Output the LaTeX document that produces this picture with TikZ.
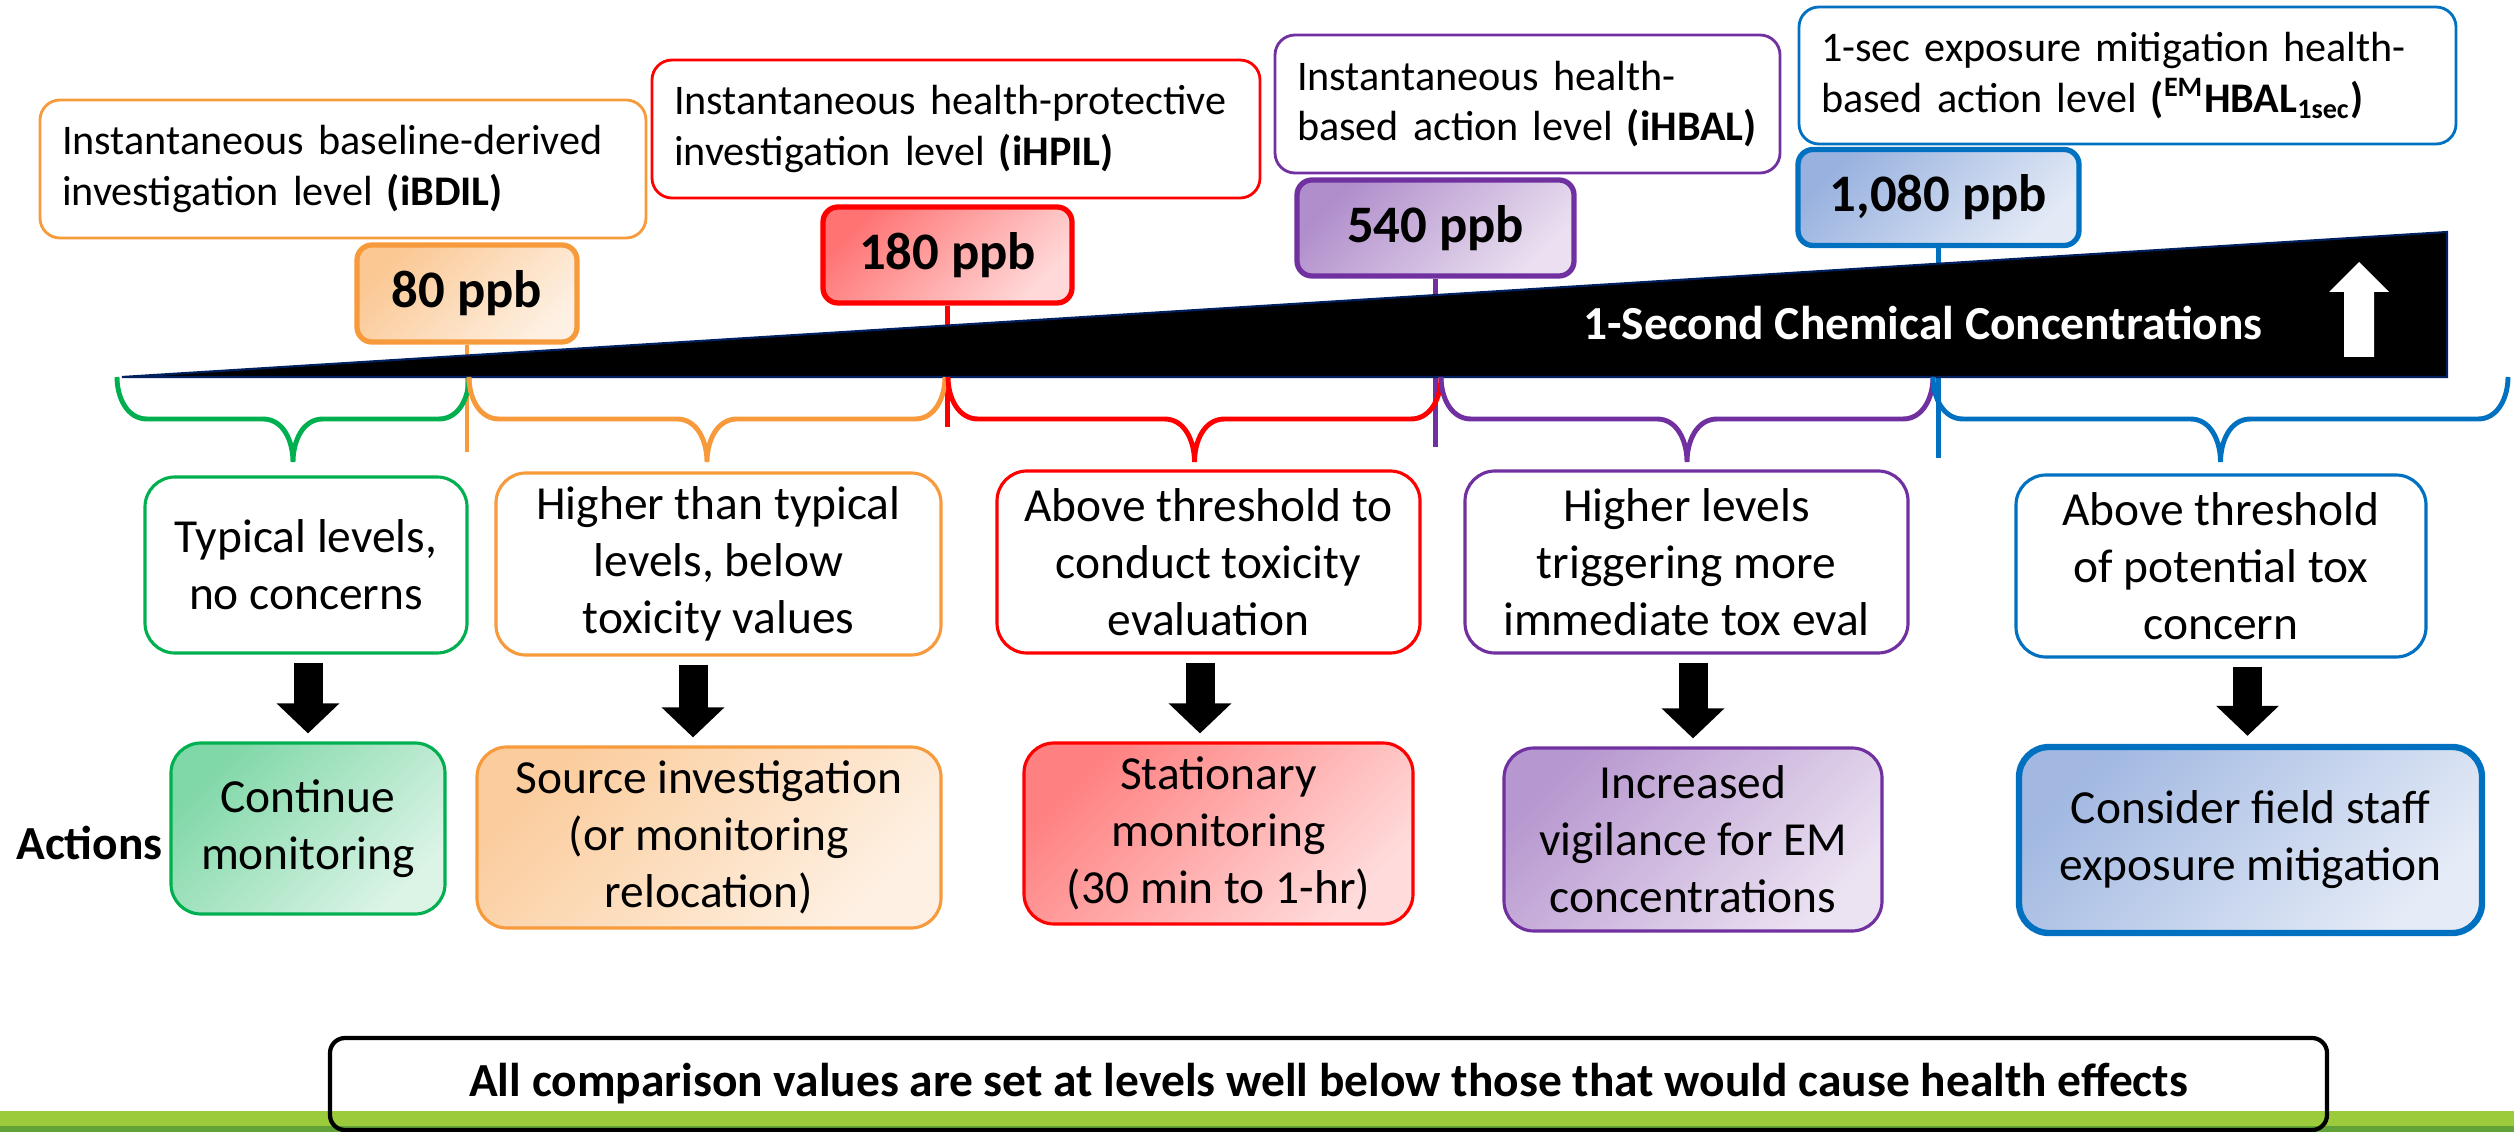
\documentclass[tikz,border=0pt]{standalone}
\usepackage{fontspec}
\setmainfont{Carlito}
\usetikzlibrary{arrows.meta}

\definecolor{lvgreen}{HTML}{00B050}
\definecolor{lvorange}{HTML}{F79A3B}
\definecolor{lvred}{HTML}{FF0000}
\definecolor{lvpurple}{HTML}{7030A0}
\definecolor{lvblue}{HTML}{0070C0}
\definecolor{lvfillblue}{HTML}{4472C4}
\definecolor{lvnavy}{HTML}{002060}
\definecolor{bandgreen}{HTML}{9BCB3B}
\definecolor{banddark}{HTML}{62A339}

\newcommand\lblfont{\fontsize{12}{14.4}\selectfont}
\newcommand\txtfont{\fontsize{13.5}{16.2}\selectfont}
\newcommand\ppbfont{\fontsize{15}{18}\selectfont\bfseries}

\begin{document}
\begin{tikzpicture}
	[toplabel/.style 2 args={rectangle,rounded corners=0.2cm,draw=#1,fill=white,line width=0.8pt,
text width=#2,align=left,inner xsep=0.22cm,minimum height=1.38cm,font=\lblfont},
	ppbbox/.style 2 args={rectangle,rounded corners=0.15cm,draw=#1,line width=1.5pt,
left color=#2!55,right color=#2!15,shading angle=45,inner sep=0pt,minimum height=0.96cm,font=\ppbfont},
	descbox/.style={rectangle,rounded corners=0.3cm,draw=#1,fill=white,line width=0.9pt,
align=center,inner sep=0pt,font=\txtfont},
	actbox/.style 2 args={rectangle,rounded corners=0.3cm,draw=#1,line width=0.9pt,
left color=#2!50,right color=#2!14,shading angle=45,align=center,inner sep=0pt,font=\txtfont},
	levelbrace/.style={draw=#1,line width=1.4pt},
	tickline/.style={draw=#1,line width=1.4pt},
	blockarrow/.style={draw=black,line width=0.29cm,-{Triangle[width=0.61cm,length=0.30cm]},
shorten <=0.08cm,shorten >=0.08cm}]
	\useasboundingbox (0,0) rectangle (25.14,-11.32);

	% comparison values
	\node at (3.43,-1.69) (lab1) [toplabel={lvorange}{5.62cm}]
		{Instantaneous baseline-derived\\investigation level \textbf{(iBDIL)}};
	\node at (9.56,-1.29) (lab2) [toplabel={lvred}{5.64cm}]
		{Instantaneous health-protective\\investigation level \textbf{(iHPIL)}};
	\node at (15.275,-1.04) (lab3) [toplabel={lvpurple}{4.61cm}]
		{Instantaneous health-\\based action level \textbf{(iHBAL)}};
	\node at (21.275,-0.755) (lab4) [toplabel={lvblue}{6.13cm},minimum height=1.37cm]
		{1-sec exposure mitigation health-\\based action level \textbf{(\textsuperscript{EM}HBAL\textsubscript{1sec})}};

	\node at (4.67,-2.935) (ppb1) [ppbbox={lvorange}{lvorange},minimum width=2.20cm,minimum height=0.97cm] {80 ppb};
	\node at (9.475,-2.55) (ppb2) [ppbbox={lvred}{lvred},minimum width=2.49cm] {180 ppb};
	\node at (14.355,-2.28) (ppb3) [ppbbox={lvpurple}{lvpurple},minimum width=2.77cm] {540 ppb};
	\node at (19.385,-1.975) (ppb4) [ppbbox={lvblue}{lvfillblue},minimum width=2.81cm] {1,080 ppb};

	\draw[tickline=lvorange] (ppb1) -- (ppb1 |- 0,-4.52);
	\draw[tickline=lvred] (ppb2) -- (ppb2 |- 0,-4.27);
	\draw[tickline=lvpurple] (ppb3) -- (ppb3 |- 0,-4.47);
	\draw[tickline=lvblue] (ppb4) -- (ppb4 |- 0,-4.58);

	% concentration wedge
	\filldraw[fill=black,draw=lvnavy,line width=0.6pt] (1.22,-3.77) -- (24.47,-2.32) -- (24.47,-3.77) -- cycle;
	\node at (19.23,-3.23) (conc) [font=\txtfont\bfseries,text=white] {1-Second Chemical Concentrations};
	\fill[white] (23.44,-3.57) -- (23.44,-2.92) -- (23.29,-2.92) -- (23.59,-2.62)
		-- (23.89,-2.92) -- (23.74,-2.92) -- (23.74,-3.57) -- cycle;

	% braces
	\draw[levelbrace=lvgreen] (1.17,-3.77) to[out=-90,in=180] (1.47,-4.19) -- (2.63,-4.19)
		to[out=0,in=90] (2.93,-4.62) to[out=90,in=180] (3.23,-4.19) -- (4.39,-4.19) to[out=0,in=-90] (4.69,-3.77);
	\draw[levelbrace=lvorange] (4.69,-3.77) to[out=-90,in=180] (4.99,-4.19) -- (6.77,-4.19)
		to[out=0,in=90] (7.07,-4.62) to[out=90,in=180] (7.37,-4.19) -- (9.15,-4.19) to[out=0,in=-90] (9.45,-3.77);
	\draw[levelbrace=lvred] (9.48,-3.77) to[out=-90,in=180] (9.78,-4.19) -- (11.645,-4.19)
		to[out=0,in=90] (11.945,-4.62) to[out=90,in=180] (12.245,-4.19) -- (14.11,-4.19) to[out=0,in=-90] (14.41,-3.77);
	\draw[levelbrace=lvpurple] (14.41,-3.77) to[out=-90,in=180] (14.71,-4.19) -- (16.57,-4.19)
		to[out=0,in=90] (16.87,-4.62) to[out=90,in=180] (17.17,-4.19) -- (19.03,-4.19) to[out=0,in=-90] (19.33,-3.77);
	\draw[levelbrace=lvblue] (19.33,-3.77) to[out=-90,in=180] (19.63,-4.19) -- (21.905,-4.19)
		to[out=0,in=90] (22.205,-4.62) to[out=90,in=180] (22.505,-4.19) -- (24.78,-4.19) to[out=0,in=-90] (25.08,-3.77);

	% what the level means
	\node at (3.06,-5.65) (desc1) [descbox=lvgreen,minimum width=3.22cm,minimum height=1.76cm] {Typical levels,\\no concerns};
	\node at (7.185,-5.64) (desc2) [descbox=lvorange,minimum width=4.45cm,minimum height=1.82cm] {Higher than typical\\levels, below\\toxicity values};
	\node at (12.085,-5.62) (desc3) [descbox=lvred,minimum width=4.23cm,minimum height=1.82cm] {Above threshold to\\conduct toxicity\\evaluation};
	\node at (16.865,-5.62) (desc4) [descbox=lvpurple,minimum width=4.43cm,minimum height=1.82cm] {Higher levels\\triggering more\\immediate tox eval};
	\node at (22.21,-5.66) (desc5) [descbox=lvblue,minimum width=4.10cm,minimum height=1.82cm] {Above threshold\\of potential tox\\concern};

	% actions
	\node at (0.895,-8.43) (actions) [font=\txtfont\bfseries] {Actions};
	\node at (3.08,-8.285) (act1) [actbox={lvgreen}{lvgreen},minimum width=2.74cm,minimum height=1.71cm] {Continue\\monitoring};
	\node at (7.09,-8.375) (act2) [actbox={lvorange}{lvorange},minimum width=4.64cm,minimum height=1.81cm] {Source investigation\\(or monitoring\\relocation)};
	\node at (12.185,-8.335) (act3) [actbox={lvred}{lvred},minimum width=3.89cm,minimum height=1.81cm] {Stationary\\monitoring\\(30 min to 1-hr)};
	\node at (16.93,-8.395) (act4) [actbox={lvpurple}{lvpurple},minimum width=3.78cm,minimum height=1.83cm] {Increased\\vigilance for EM\\concentrations};
	\node at (22.505,-8.40) (act5) [actbox={lvblue}{lvfillblue},line width=1.8pt,minimum width=4.63cm,minimum height=1.86cm] {Consider field staff\\exposure mitigation};

	\draw[blockarrow] (act1.north |- desc1.south) -- (act1.north);
	\draw[blockarrow] ([xshift=-0.16cm]act2.north |- desc2.south) -- ([xshift=-0.16cm]act2.north);
	\draw[blockarrow] ([xshift=-0.185cm]act3.north |- desc3.south) -- ([xshift=-0.185cm]act3.north);
	\draw[blockarrow] (act4.north |- desc4.south) -- (act4.north);
	\draw[blockarrow] ([xshift=-0.03cm]act5.north |- desc5.south) -- ([xshift=-0.03cm]act5.north);

	% footer
	\fill[bandgreen] (0,-11.11) rectangle (25.14,-11.26);
	\fill[banddark] (0,-11.26) rectangle (25.14,-11.32);
	\node at (13.285,-10.84) (note) [rectangle,rounded corners=0.15cm,draw=black,line width=1.2pt,
		minimum width=19.97cm,minimum height=0.92cm,inner sep=0pt,font=\txtfont\bfseries]
		{All comparison values are set at levels well below those that would cause health effects};
\end{tikzpicture}
\end{document}
